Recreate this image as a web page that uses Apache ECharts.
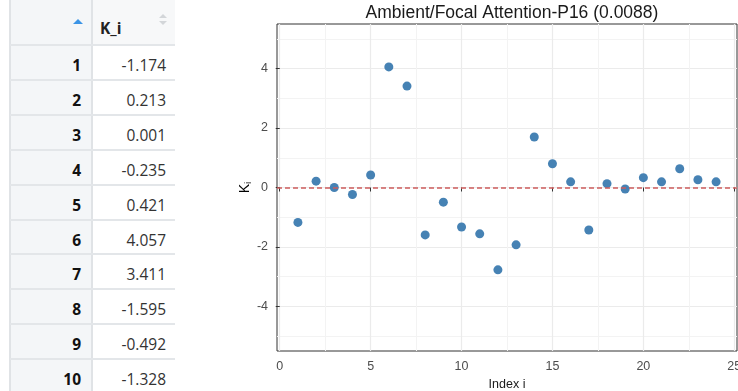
<!DOCTYPE html>
<html>
<head>
<meta charset="utf-8">
<script src="https://cdn.jsdelivr.net/npm/echarts@6/dist/echarts.min.js"></script>
<style>
  html, body { margin: 0; padding: 0; width: 738px; height: 391px; overflow: hidden; background: #fff; }
  #tbl { position: absolute; left: 0; top: 0; width: 180px; height: 391px; font-family: "Open Sans", sans-serif; }
  #tbl div { position: absolute; box-sizing: border-box; }
  .idx-col { left: 10px; top: 0; width: 82px; height: 391px; background: #f4f6f8; }
  .val-head { left: 92px; top: 0; width: 83px; height: 45px; background: #f7f8f9; }
  .vline { top: 0; width: 2px; height: 391px; background: #e0e3e6; }
  .hline { left: 10px; width: 165px; height: 2px; background: #e3e6e9; }
  .idx { left: 10px; width: 71px; text-align: right; font-size: 15.5px; font-weight: 700; color: #111; line-height: 20px; }
  .val { left: 92px; width: 74px; text-align: right; font-size: 15.5px; color: #333; line-height: 20px; }
  #chart { position: absolute; left: 180px; top: 0; width: 558px; height: 391px; }
</style>
</head>
<body>
<div id="tbl"></div>
<div id="chart"></div>
<script>
// data
const indexI = [1, 2, 3, 4, 5, 6, 7, 8, 9, 10, 11, 12, 13, 14, 15, 16, 17, 18, 19, 20, 21, 22, 23, 24]
const kValues = [-1.174, 0.213, 0.001, -0.235, 0.421, 4.057, 3.411, -1.595, -0.492, -1.328,
  -1.56, -2.77, -1.93, 1.70, 0.80, 0.19, -1.43, 0.13, -0.05, 0.33, 0.19, 0.63, 0.26, 0.19]
const xTicks = [0, 5, 10, 15, 20, 25]
const xMinor = [2.5, 7.5, 12.5, 17.5, 22.5]
const yTicks = [-4, -2, 0, 2, 4]
const yMinor = [-5, -3, -1, 1, 3, 5]
const tableRows = 10
const chartTitle = 'Ambient/Focal Attention-P16 (0.0088)'

// ---- table ----
const tbl = document.getElementById('tbl')
let html = '<div class="idx-col"></div><div class="val-head"></div>'
html += '<div class="vline" style="left:9px"></div><div class="vline" style="left:91px"></div>'
html += '<div style="left:73px;top:19px;width:0;height:0;border-left:5px solid transparent;border-right:5px solid transparent;border-bottom:5px solid #3b94e6"></div>'
html += '<div style="left:159px;top:14px;width:0;height:0;border-left:4px solid transparent;border-right:4px solid transparent;border-bottom:4px solid #d3d6d9"></div>'
html += '<div style="left:159px;top:21px;width:0;height:0;border-left:4px solid transparent;border-right:4px solid transparent;border-top:4px solid #d3d6d9"></div>'
html += '<div style="left:100px;top:18px;font-size:15.5px;font-weight:700;color:#222;line-height:20px">K_i</div>'
for (let r = 0; r < tableRows; r++) {
  const top = 45 + r * 34.9
  html += `<div class="hline" style="top:${top - 1}px"></div>`
  html += `<div class="idx" style="top:${top + 10}px">${indexI[r]}</div>`
  html += `<div class="val" style="top:${top + 10}px">${kValues[r].toFixed(3)}</div>`
}
tbl.innerHTML = html

// ---- chart ----
const chart = echarts.init(document.getElementById('chart'))
const font = '"Liberation Sans", Arial, sans-serif'
const xRange = { min: -0.15, max: 25.15 }
const yRange = { min: -5.5, max: 5.5 }

chart.setOption({
  animation: false,
  textStyle: { fontFamily: font },
  title: {
    text: chartTitle,
    left: 327, top: -1, textAlign: 'center',
    textStyle: { fontFamily: font, fontSize: 17.5, fontWeight: 'normal', color: '#1a1a1a' }
  },
  grid: {
    left: 97, right: 1, top: 24, bottom: 40, containLabel: false, outerBoundsMode: 'none',
    show: true, borderColor: '#333', borderWidth: 1, backgroundColor: 'transparent'
  },
  xAxis: [{
    type: 'value', ...xRange,
    name: 'Index i', nameLocation: 'middle', nameGap: 27,
    nameTextStyle: { fontFamily: font, fontSize: 12.5, color: '#1a1a1a' },
    axisLine: { show: false },
    axisTick: { show: true, length: 4, customValues: xTicks, lineStyle: { color: '#333' } },
    axisLabel: { customValues: xTicks, color: '#4d4d4d', fontSize: 12.5, margin: 9, fontFamily: font },
    splitLine: { show: true, lineStyle: { color: '#ebebeb', width: 1.2 } }
  }, {
    type: 'value', ...xRange, position: 'top',
    axisLine: { show: false }, axisLabel: { show: false },
    axisTick: { show: false, customValues: xMinor },
    splitLine: { show: true, lineStyle: { color: '#f3f3f3', width: 1 } }
  }],
  yAxis: [{
    type: 'value', ...yRange,
    name: '{k|K}{i|i}', nameLocation: 'middle', nameGap: 24, nameRotate: 90, nameMoveOverlap: false,
    nameTextStyle: {
      rich: {
        k: { fontFamily: font, fontSize: 14, color: '#000' },
        i: { fontFamily: font, fontSize: 9.5, color: '#000', padding: [6, 0, 0, 0] }
      }
    },
    axisLine: { show: false },
    axisTick: { show: true, length: 4, customValues: yTicks, lineStyle: { color: '#333' } },
    axisLabel: { customValues: yTicks, color: '#4d4d4d', fontSize: 12.5, margin: 9, fontFamily: font },
    splitLine: { show: true, lineStyle: { color: '#ebebeb', width: 1.2 } }
  }, {
    type: 'value', ...yRange, position: 'right',
    axisLine: { show: false }, axisLabel: { show: false },
    axisTick: { show: false, customValues: yMinor },
    splitLine: { show: true, lineStyle: { color: '#f3f3f3', width: 1 } }
  }],
  series: [{
    type: 'scatter',
    xAxisIndex: 0, yAxisIndex: 0,
    symbolSize: 9,
    itemStyle: { color: '#4682b4', opacity: 1 },
    data: indexI.map((x, i) => [x, kValues[i]]),
    markLine: {
      silent: true, symbol: 'none', label: { show: false },
      lineStyle: { color: '#cd5c5c', type: [5, 3], width: 1.5 },
      data: [{ yAxis: 0 }]
    },
    z: 3
  }]
})
</script>
</body>
</html>
